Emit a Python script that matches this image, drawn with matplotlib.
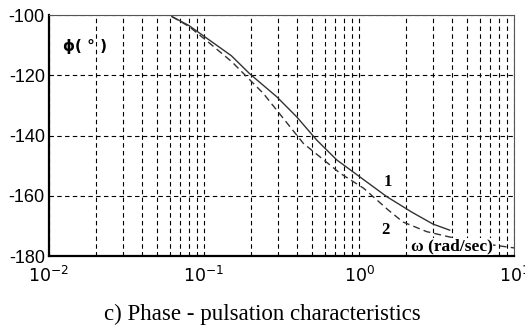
import numpy as np
import matplotlib
matplotlib.use("Agg")
import matplotlib.pyplot as plt

# Curve 1 (solid)
w1 = [0.062, 0.08, 0.101, 0.15, 0.198, 0.294, 0.396, 0.533, 0.718, 1.01, 1.51, 2.2, 3.0, 3.84]
p1 = [-100.5, -103.5, -107.2, -113.5, -119.6, -127.1, -133.8, -141.5, -148.1, -153.7, -160.3, -165.5, -169.4, -171.4]
# Curve 2 (dashed)
w2 = [0.062, 0.08, 0.101, 0.151, 0.241, 0.437, 0.754, 1.07, 1.54, 1.92, 2.73, 4.5, 7.0, 10.0]
p2 = [-100.5, -103.8, -108.0, -115.5, -126.0, -142.6, -152.5, -157.5, -164.7, -168.7, -171.9, -174.5, -176.2, -177.3]

yticks = [-180, -160, -140, -120, -100]
xticks = [1e-2, 1e-1, 1e0, 1e1]
xticklabels = [r"$10^{-2}$", r"$10^{-1}$", r"$10^{0}$", r"$10^{1}$"]

fig = plt.figure(figsize=(5.25, 3.27), dpi=100)
ax = fig.add_axes([0.0933, 0.217, 0.886, 0.737])

ax.set_xscale("log")
ax.set_xlim(1e-2, 1e1)
ax.set_ylim(-180, -100)

# grid
ax.grid(True, which="both", axis="x", color="black", linestyle=(0, (4, 3)), linewidth=0.8)
ax.grid(True, which="major", axis="y", color="black", linestyle=(0, (4, 3)), linewidth=0.8)
ax.set_axisbelow(True)

ax.plot(w1, p1, color="#333333", linewidth=1.0, linestyle="-")
ax.plot(w2, p2, color="#333333", linewidth=1.0, linestyle=(0, (5, 3)))

ax.set_yticks(yticks)
ax.set_yticklabels([str(v) for v in yticks], family="Liberation Sans", fontsize=13)
ax.set_xticks(xticks)
ax.set_xticklabels(xticklabels, fontsize=12.5)
ax.tick_params(axis="y", which="both", length=0, pad=3)
ax.tick_params(axis="x", which="both", length=0, pad=7)
ax.xaxis.set_minor_formatter(matplotlib.ticker.NullFormatter())

for s in ["left", "bottom"]:
    ax.spines[s].set_linewidth(1.6)
    ax.spines[s].set_color("black")
for s in ["top", "right"]:
    ax.spines[s].set_linewidth(0.8)
    ax.spines[s].set_color("#555555")

ax.text(0.03, 0.87, "ϕ( ° )", transform=ax.transAxes, fontsize=11, fontweight="bold",
        family="DejaVu Sans", va="center", ha="left")
ax.text(1.45, -155.5, "1", fontsize=12, fontweight="bold", family="Liberation Serif", ha="left", va="center")
ax.text(1.4, -171.5, "2", fontsize=12, fontweight="bold", family="Liberation Serif", ha="left", va="center")
ax.text(2.15, -176.8, "ω (rad/sec)", fontsize=12.5, fontweight="bold", family="Liberation Serif",
        ha="left", va="center", bbox=dict(facecolor="white", edgecolor="none", pad=0.5), zorder=5)

fig.text(0.5, 0.04, "c) Phase - pulsation characteristics", ha="center", va="center",
         fontsize=16.5, family="Liberation Serif")

fig.savefig("out.png", dpi=100)
